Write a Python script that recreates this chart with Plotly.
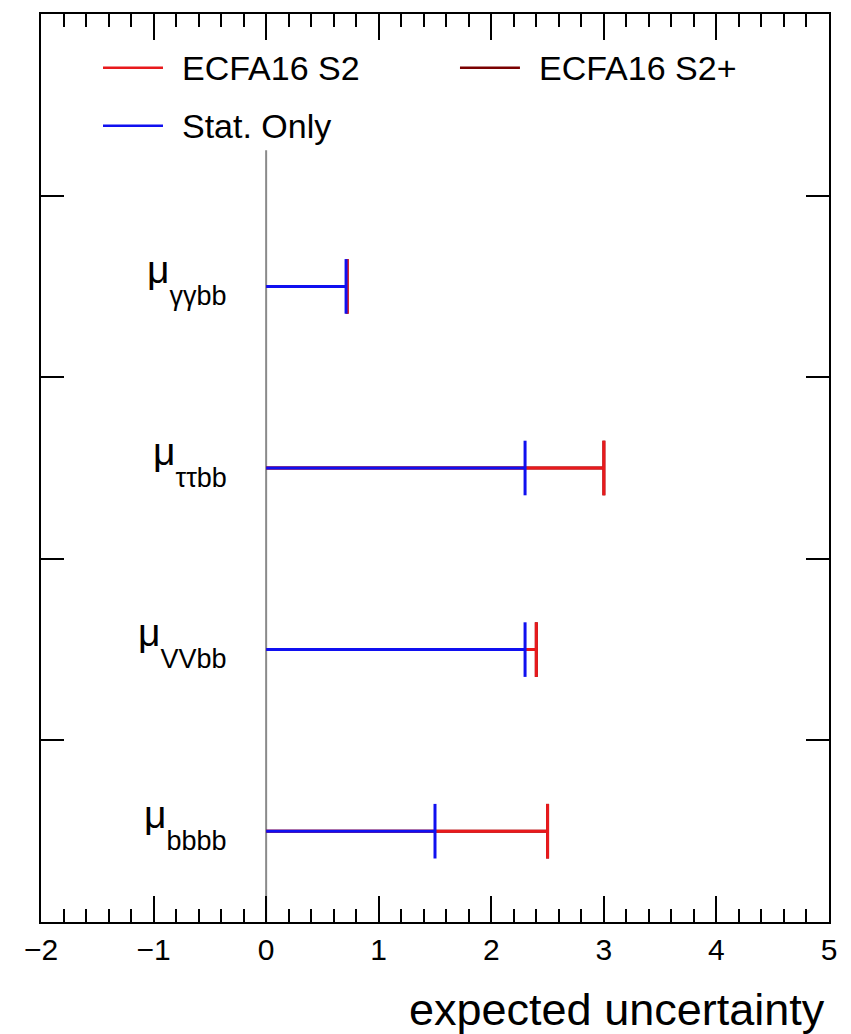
import plotly.graph_objects as go

# ---- data ----
categories = ["bbbb", "VVbb", "ττbb", "γγbb"]
stat_only = [1.50, 2.30, 2.30, 0.71]
ecfa16_s2 = [2.50, 2.40, 3.00, 0.72]
ecfa16_s2plus = [2.50, 2.40, 3.00, 0.72]
x_ticks = [-2, -1, 0, 1, 2, 3, 4, 5]

series = [
    ("ECFA16 S2+", ecfa16_s2plus, "#7a0000"),
    ("ECFA16 S2", ecfa16_s2, "#e8191c"),
    ("Stat. Only", stat_only, "#1010f0"),
]

FONT = "Liberation Sans, Arial, Helvetica, sans-serif"
ypos = [i + 0.5 for i in range(len(categories))]

fig = go.Figure()
for name, vals, color in series:
    xs, ys = [], []
    for v, y in zip(vals, ypos):
        xs += [0, v, None]
        ys += [y, y, None]
    fig.add_trace(go.Scatter(x=xs, y=ys, mode="lines", name=name,
                             line=dict(color=color, width=3),
                             showlegend=False, hoverinfo="skip"))
    fig.add_trace(go.Scatter(x=vals, y=ypos, mode="markers", name=name,
                             marker=dict(symbol="line-ns", size=39,
                                         line=dict(color=color, width=3)),
                             showlegend=False))

# vertical zero line
fig.add_shape(type="line", x0=0, x1=0, y0=0, y1=4.25, xref="x", yref="y",
              line=dict(color="#8a8a8a", width=2), layer="below")

# category labels: large mu raised above a full-size subscript (ROOT style)
for cat, y in zip(categories, ypos):
    label = ("<sup><span style='font-size:39px'>μ</span></sup>"
             f"<span style='font-size:27px'>{cat}</span>")
    fig.add_annotation(x=-0.33, y=y, xref="x", yref="y", xanchor="right",
                       yanchor="middle", showarrow=False, yshift=7,
                       text=label, font=dict(family=FONT, size=52, color="black"))

# manual legend
legend_items = [
    ("ECFA16 S2", "#e8191c", 0.0787, 0.9407),
    ("ECFA16 S2+", "#7a0000", 0.5317, 0.9407),
    ("Stat. Only", "#1010f0", 0.0787, 0.8769),
]
for name, color, lx, ly in legend_items:
    fig.add_shape(type="line", xref="paper", yref="paper",
                  x0=lx, x1=lx + 0.0761, y0=ly, y1=ly,
                  line=dict(color=color, width=2.5))
    fig.add_annotation(xref="paper", yref="paper", x=lx + 0.0977, y=ly,
                       xanchor="left", yanchor="middle", showarrow=False,
                       text=name, font=dict(family=FONT, size=34, color="black"))

# axis title
fig.add_annotation(xref="paper", yref="paper", x=0.997, y=-0.096,
                   xanchor="right", yanchor="middle", showarrow=False,
                   text="expected uncertainty",
                   font=dict(family=FONT, size=45, color="black"))

fig.update_layout(
    width=851, height=1034,
    margin=dict(l=41, r=22, t=12, b=112),
    paper_bgcolor="white", plot_bgcolor="white",
    font=dict(family=FONT, color="black"),
    showlegend=False,
)
fig.update_xaxes(range=[-2, 5], tickvals=x_ticks, ticks="inside", ticklen=26,
                 tickwidth=1.5, tickcolor="black", mirror="allticks",
                 showline=True, linecolor="black", linewidth=2,
                 showgrid=False, zeroline=False,
                 tickfont=dict(family=FONT, size=30, color="black"),
                 minor=dict(dtick=0.2, ticks="inside", ticklen=13,
                            tickwidth=1.5, tickcolor="black", showgrid=False))
fig.update_yaxes(range=[0, 5], dtick=1, ticks="inside", ticklen=23,
                 tickwidth=1.5, tickcolor="black", mirror="allticks",
                 showline=True, linecolor="black", linewidth=2,
                 showgrid=False, zeroline=False, showticklabels=False)

fig.write_html("out.html")
